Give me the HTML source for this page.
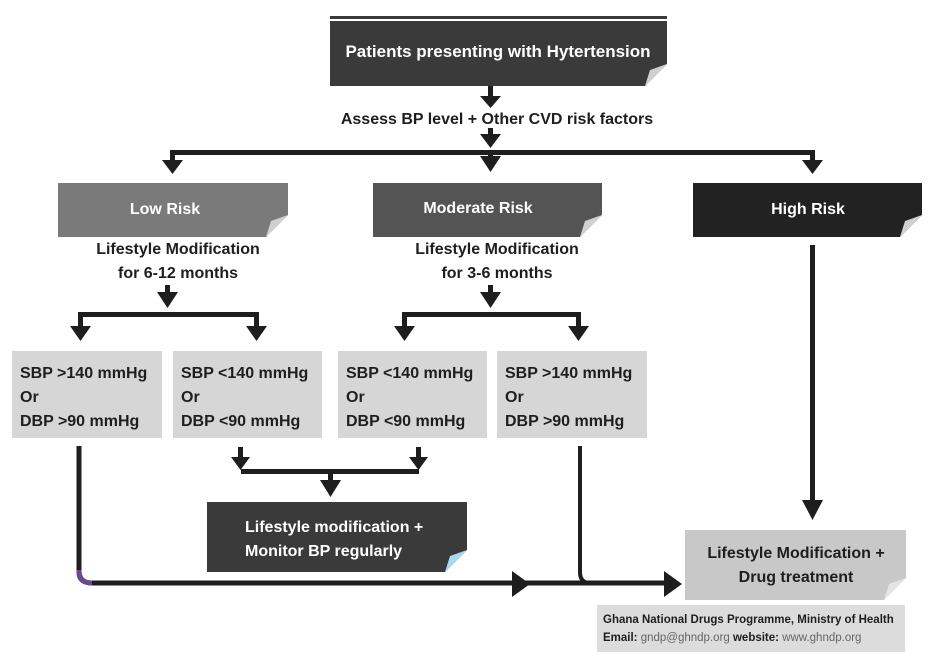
<!DOCTYPE html>
<html><head><meta charset="utf-8"><style>
html,body{margin:0;padding:0;background:#fff;}
svg text{font-family:"Liberation Sans Narrow","Liberation Sans",sans-serif;font-weight:bold;}
</style></head><body>
<svg width="941" height="666" viewBox="0 0 941 666" xmlns="http://www.w3.org/2000/svg">
<defs>
<marker id="a" markerWidth="6" markerHeight="6" refX="3" refY="3" orient="auto" markerUnits="userSpaceOnUse"></marker>
</defs>
<g fill="#1e1e1e" stroke="none">
<!-- top box -->
<rect x="330" y="16" width="337" height="3" fill="#3a3a3a"/>
<rect x="330" y="21" width="337" height="65" fill="#3a3a3a"/>
<polygon points="645,86 667,64 667,86" fill="#fff"/>
<polygon points="645,86 667,64 650,70" fill="#d0d0d0"/>
<text x="498" y="57" font-size="17" fill="#fff" text-anchor="middle">Patients presenting with Hytertension</text>
<!-- arrow 1 -->
<rect x="488" y="86" width="5" height="12"/><polygon points="480,96 501,96 490.5,108"/>
<text x="497" y="124" font-size="16" fill="#1e1e1e" text-anchor="middle">Assess BP level + Other CVD risk factors</text>
<rect x="488" y="128" width="5" height="10"/><polygon points="480,134 501,134 490.5,148"/>
<!-- horizontal -->
<rect x="170" y="150" width="645" height="5"/>
<polygon points="480,156 501,156 490.5,172"/><rect x="488" y="150" width="5" height="10"/>
<rect x="170" y="150" width="5" height="12"/><polygon points="162,160 183,160 172.5,174"/>
<rect x="810" y="150" width="5" height="12"/><polygon points="802,160 823,160 812.5,174"/>
<!-- risk boxes -->
<rect x="58" y="183" width="230" height="54" fill="#7a7a7a"/>
<polygon points="266,237 288,215 288,237" fill="#fff"/><polygon points="266,237 288,215 271,221" fill="#d0d0d0"/>
<text x="165" y="214" font-size="16" fill="#fff" text-anchor="middle">Low Risk</text>
<rect x="373" y="183" width="229" height="54" fill="#545454"/>
<polygon points="580,237 602,215 602,237" fill="#fff"/><polygon points="580,237 602,215 585,221" fill="#d0d0d0"/>
<text x="478" y="213" font-size="16" fill="#fff" text-anchor="middle">Moderate Risk</text>
<rect x="693" y="183" width="229" height="54" fill="#222"/>
<polygon points="900,237 922,215 922,237" fill="#fff"/><polygon points="900,237 922,215 905,221" fill="#d0d0d0"/>
<text x="808" y="214" font-size="16" fill="#fff" text-anchor="middle">High Risk</text>
<text x="178" y="254" font-size="16" text-anchor="middle">Lifestyle Modification</text>
<text x="178" y="278" font-size="16" text-anchor="middle">for 6-12 months</text>
<text x="497" y="254" font-size="16" text-anchor="middle">Lifestyle Modification</text>
<text x="497" y="278" font-size="16" text-anchor="middle">for 3-6 months</text>
<!-- low branch -->
<rect x="165" y="285" width="5" height="10"/><polygon points="157,292 178,292 167.5,308"/>
<rect x="78" y="312" width="181" height="5"/>
<rect x="78" y="312" width="5" height="16"/><polygon points="70,326 91,326 80.5,341"/>
<rect x="254" y="312" width="5" height="16"/><polygon points="246,326 267,326 256.5,341"/>
<!-- moderate branch -->
<rect x="488" y="285" width="5" height="10"/><polygon points="480,292 501,292 490.5,308"/>
<rect x="402" y="312" width="179" height="5"/>
<rect x="402" y="312" width="5" height="16"/><polygon points="394,326 415,326 404.5,341"/>
<rect x="576" y="312" width="5" height="16"/><polygon points="568,326 589,326 578.5,341"/>
<!-- gray boxes -->
<rect x="12" y="351" width="150" height="87" fill="#d6d6d7"/>
<rect x="173" y="351" width="149" height="87" fill="#d6d6d7"/>
<rect x="338" y="351" width="149" height="87" fill="#d6d6d7"/>
<rect x="497" y="351" width="150" height="87" fill="#d6d6d7"/>
<g font-size="16">
<text x="20" y="378">SBP &gt;140 mmHg</text><text x="20" y="402">Or</text><text x="20" y="426">DBP &gt;90 mmHg</text>
<text x="181" y="378">SBP &lt;140 mmHg</text><text x="181" y="402">Or</text><text x="181" y="426">DBP &lt;90 mmHg</text>
<text x="346" y="378">SBP &lt;140 mmHg</text><text x="346" y="402">Or</text><text x="346" y="426">DBP &lt;90 mmHg</text>
<text x="505" y="378">SBP &gt;140 mmHg</text><text x="505" y="402">Or</text><text x="505" y="426">DBP &gt;90 mmHg</text>
</g>
<!-- merge -->
<rect x="238" y="447" width="5" height="12"/><polygon points="231,457 250,457 240.5,470"/>
<rect x="416" y="447" width="5" height="12"/><polygon points="409,457 428,457 418.5,470"/>
<rect x="241" y="469" width="178" height="5"/>
<rect x="328" y="472" width="5" height="10"/><polygon points="320,480 341,480 330.5,497"/>
<rect x="207" y="502" width="260" height="70" fill="#3a3a3a"/>
<polygon points="445,572 467,550 467,572" fill="#fff"/><polygon points="445,572 467,550 450,556" fill="#a8d8f0"/>
<text x="245" y="532" font-size="16" fill="#fff">Lifestyle modification +</text>
<text x="245" y="556" font-size="16" fill="#fff">Monitor BP regularly</text>
<!-- bottom lines -->
<path d="M79,446 V572 Q79,583 92,583 H670" fill="none" stroke="#1e1e1e" stroke-width="5"/>
<path d="M79,570 Q79,583 92,583" fill="none" stroke="#6a4a90" stroke-width="5"/>
<path d="M580,446 V572 Q580,583 590,583" fill="none" stroke="#1e1e1e" stroke-width="4"/>
<polygon points="512,571 512,597 530,584"/>
<polygon points="664,571 664,597 682,584"/>
<rect x="810" y="245" width="5" height="260"/><polygon points="802,500 823,500 812.5,520"/>
<rect x="685" y="530" width="221" height="70" fill="#c8c8c8"/>
<polygon points="884,600 906,578 906,600" fill="#fff"/><polygon points="884,600 906,578 889,584" fill="#e4e4e4"/>
<text x="796" y="558" font-size="16" text-anchor="middle">Lifestyle Modification +</text>
<text x="796" y="582" font-size="16" text-anchor="middle">Drug treatment</text>
<rect x="597" y="605" width="308" height="47" fill="#dcdcdc"/>
<text x="603" y="623" font-size="11.5">Ghana National Drugs Programme, Ministry of Health</text>
<text x="603" y="641" font-size="11.5">Email: <tspan fill="#666" font-weight="normal">gndp@ghndp.org</tspan>    website: <tspan fill="#666" font-weight="normal">www.ghndp.org</tspan></text>
</g>
</svg>
</body></html>
